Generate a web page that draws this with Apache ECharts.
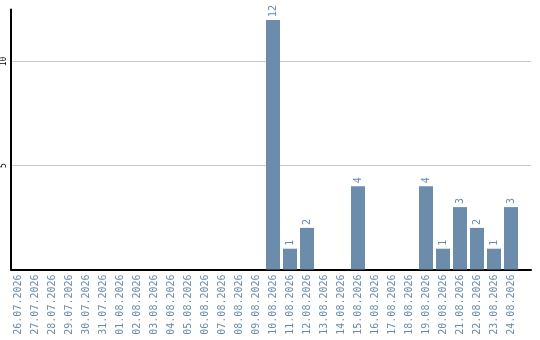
<!DOCTYPE html>
<html>
<head>
<meta charset="utf-8">
<script src="https://cdn.jsdelivr.net/npm/echarts@6/dist/echarts.min.js"></script>
<style>
html,body{margin:0;padding:0;background:#fff;}
#chart{width:540px;height:340px;}
</style>
</head>
<body>
<div id="chart"></div>
<script>
// Daily counts, 26.07.2026 - 24.08.2026
var dates = [
  '26.07.2026','27.07.2026','28.07.2026','29.07.2026','30.07.2026','31.07.2026',
  '01.08.2026','02.08.2026','03.08.2026','04.08.2026','05.08.2026','06.08.2026',
  '07.08.2026','08.08.2026','09.08.2026','10.08.2026','11.08.2026','12.08.2026',
  '13.08.2026','14.08.2026','15.08.2026','16.08.2026','17.08.2026','18.08.2026',
  '19.08.2026','20.08.2026','21.08.2026','22.08.2026','23.08.2026','24.08.2026'
];
var counts = [
  0,0,0,0,0,0,
  0,0,0,0,0,0,
  0,0,0,12,1,2,
  0,0,4,0,0,0,
  4,1,3,2,1,3
];
var yTicks = [5, 10];

var BLUE = '#6b8cab';
var LABEL = '#6a8aab';
var MONO = '"DejaVu Sans Mono", monospace';
var TOP = 9.5, BOTTOM = 70.5, YMAX = 12.5;

var chart = echarts.init(document.getElementById('chart'), null, {renderer: 'canvas'});
chart.setOption({
  animation: false,
  backgroundColor: '#fff',
  grid: [
    // frame: gridlines and axis lines
    {left: 11, right: 9, top: TOP, bottom: BOTTOM, containLabel: false},
    // bars and date labels
    {left: 9.5, width: 510, top: TOP, bottom: BOTTOM, containLabel: false}
  ],
  xAxis: [
    {
      gridIndex: 0, type: 'value', min: 0, max: 1,
      axisLine: {show: true, onZero: false, lineStyle: {color: '#000', width: 2}},
      axisTick: {show: false}, axisLabel: {show: false}, splitLine: {show: false}
    },
    {
      gridIndex: 1, type: 'category', data: dates,
      axisLine: {show: false}, axisTick: {show: false}, splitLine: {show: false},
      axisLabel: {
        interval: 0, rotate: 90, margin: 5,
        color: LABEL, fontFamily: MONO, fontSize: 10
      }
    }
  ],
  yAxis: [
    {
      gridIndex: 0, type: 'value', min: 0, max: YMAX, interval: 5,
      axisLine: {show: true, lineStyle: {color: '#000', width: 2}},
      axisTick: {show: false},
      splitLine: {show: true, showMinLine: false, showMaxLine: false,
        lineStyle: {color: '#c8c8c8', width: 1}},
      axisLabel: {
        rotate: 90, margin: 3, color: '#000', fontFamily: MONO, fontSize: 8,
        formatter: function (v) { return yTicks.indexOf(v) >= 0 ? String(v) : ''; }
      }
    },
    {
      gridIndex: 1, type: 'value', min: 0, max: YMAX,
      show: false
    }
  ],
  series: [{
    type: 'bar',
    xAxisIndex: 1, yAxisIndex: 1,
    data: counts.map(function (v) { return v === 0 ? null : v; }),
    barWidth: 14,
    itemStyle: {color: BLUE},
    label: {
      show: true, position: 'top', rotate: 90, distance: 3,
      align: 'left', verticalAlign: 'middle',
      color: LABEL, fontFamily: MONO, fontSize: 10
    }
  }]
});
</script>
</body>
</html>
